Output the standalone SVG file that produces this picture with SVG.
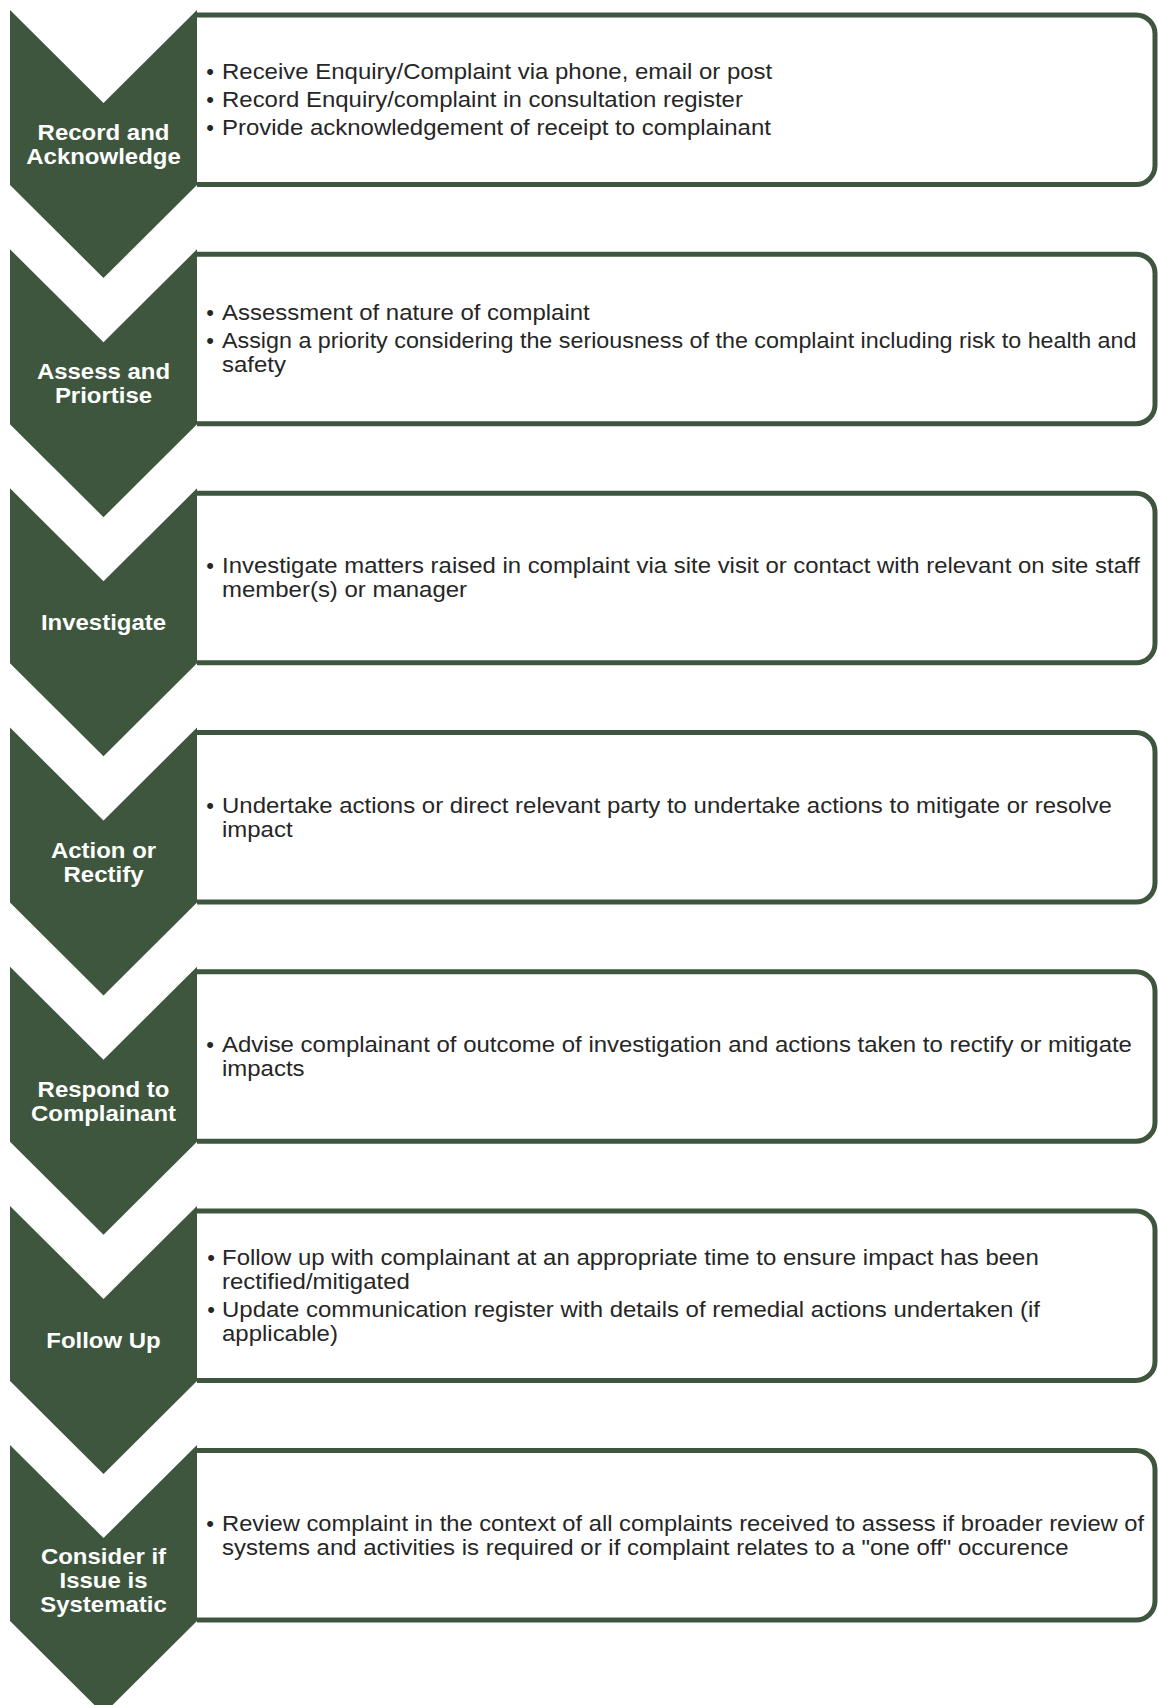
<svg xmlns="http://www.w3.org/2000/svg" width="1158" height="1705" viewBox="0 0 1158 1705">
<style>
.chev{fill:#3e563d}
.box{fill:#ffffff;stroke:#3e563d;stroke-width:5}
.lbl{font-family:"Liberation Sans",Arial,sans-serif;font-weight:bold;font-size:22px;fill:#ffffff;text-anchor:middle}
.body{font-family:"Liberation Sans",Arial,sans-serif;font-size:22px;fill:#262626}
.bul{font-family:"Liberation Sans",Arial,sans-serif;font-size:22px;fill:#262626;text-anchor:middle}
</style>
<rect width="1158" height="1705" fill="#ffffff"/>
<g id="connectors"/>

<g id="step1">
<path class="box" d="M197,15 H1136 A19,19 0 0 1 1155,34 V165.5 A19,19 0 0 1 1136,184.5 H197"/>
<polygon class="chev" points="10,10 103.5,103 197,10 197,185 103.5,278 10,185"/>
<text class="lbl" transform="matrix(1.09 0 0 1 103.5 0)"><tspan x="0" y="139.8">Record and</tspan><tspan x="0" y="164">Acknowledge</tspan></text>
<text class="bul"><tspan x="210" y="78.9">•</tspan><tspan x="210" y="106.9">•</tspan><tspan x="210" y="134.9">•</tspan></text>
<text class="body" transform="matrix(1.09 0 0 1 222 0)"><tspan x="0" y="78.9">Receive Enquiry/Complaint via phone, email or post</tspan><tspan x="0" y="106.9">Record Enquiry/complaint in consultation register</tspan><tspan x="0" y="134.9">Provide acknowledgement of receipt to complainant</tspan></text>
</g>

<g id="step2">
<path class="box" d="M197,254.2 H1136 A19,19 0 0 1 1155,273.2 V404.7 A19,19 0 0 1 1136,423.7 H197"/>
<polygon class="chev" points="10,249.2 103.5,342.2 197,249.2 197,424.2 103.5,517.2 10,424.2"/>
<text class="lbl" transform="matrix(1.09 0 0 1 103.5 0)"><tspan x="0" y="379">Assess and</tspan><tspan x="0" y="403.2">Priortise</tspan></text>
<text class="bul"><tspan x="210" y="320">•</tspan><tspan x="210" y="348">•</tspan></text>
<text class="body" transform="matrix(1.09 0 0 1 222 0)"><tspan x="0" y="320">Assessment of nature of complaint</tspan><tspan x="0" y="348" textLength="839" lengthAdjust="spacingAndGlyphs">Assign a priority considering the seriousness of the complaint including risk to health and</tspan><tspan x="0" y="372">safety</tspan></text>
</g>

<g id="step3">
<path class="box" d="M197,493.3 H1136 A19,19 0 0 1 1155,512.3 V643.8 A19,19 0 0 1 1136,662.8 H197"/>
<polygon class="chev" points="10,488.3 103.5,581.3 197,488.3 197,663.3 103.5,756.3 10,663.3"/>
<text class="lbl" transform="matrix(1.09 0 0 1 103.5 0)"><tspan x="0" y="630.5">Investigate</tspan></text>
<text class="bul"><tspan x="210" y="573.3">•</tspan></text>
<text class="body" transform="matrix(1.09 0 0 1 222 0)"><tspan x="0" y="573.3" textLength="842" lengthAdjust="spacingAndGlyphs">Investigate matters raised in complaint via site visit or contact with relevant on site staff</tspan><tspan x="0" y="597.3">member(s) or manager</tspan></text>
</g>

<g id="step4">
<path class="box" d="M197,732.5 H1136 A19,19 0 0 1 1155,751.5 V883 A19,19 0 0 1 1136,902 H197"/>
<polygon class="chev" points="10,727.5 103.5,820.5 197,727.5 197,902.5 103.5,995.5 10,902.5"/>
<text class="lbl" transform="matrix(1.09 0 0 1 103.5 0)"><tspan x="0" y="858">Action or</tspan><tspan x="0" y="882.2">Rectify</tspan></text>
<text class="bul"><tspan x="210" y="812.8">•</tspan></text>
<text class="body" transform="matrix(1.09 0 0 1 222 0)"><tspan x="0" y="812.8">Undertake actions or direct relevant party to undertake actions to mitigate or resolve</tspan><tspan x="0" y="836.8">impact</tspan></text>
</g>

<g id="step5">
<path class="box" d="M197,971.7 H1136 A19,19 0 0 1 1155,990.7 V1122.2 A19,19 0 0 1 1136,1141.2 H197"/>
<polygon class="chev" points="10,966.7 103.5,1059.7 197,966.7 197,1141.7 103.5,1234.7 10,1141.7"/>
<text class="lbl" transform="matrix(1.09 0 0 1 103.5 0)"><tspan x="0" y="1097.2">Respond to</tspan><tspan x="0" y="1121.4">Complainant</tspan></text>
<text class="bul"><tspan x="210" y="1052">•</tspan></text>
<text class="body" transform="matrix(1.09 0 0 1 222 0)"><tspan x="0" y="1052">Advise complainant of outcome of investigation and actions taken to rectify or mitigate</tspan><tspan x="0" y="1076">impacts</tspan></text>
</g>

<g id="step6">
<path class="box" d="M197,1210.9 H1136 A19,19 0 0 1 1155,1229.9 V1361.4 A19,19 0 0 1 1136,1380.4 H197"/>
<polygon class="chev" points="10,1205.9 103.5,1298.9 197,1205.9 197,1380.9 103.5,1473.9 10,1380.9"/>
<text class="lbl" transform="matrix(1.09 0 0 1 103.5 0)"><tspan x="0" y="1348">Follow Up</tspan></text>
<text class="bul"><tspan x="211" y="1264.7">•</tspan><tspan x="211" y="1316.7">•</tspan></text>
<text class="body" transform="matrix(1.09 0 0 1 222 0)"><tspan x="0" y="1264.7">Follow up with complainant at an appropriate time to ensure impact has been</tspan><tspan x="0" y="1288.7">rectified/mitigated</tspan><tspan x="0" y="1316.7">Update communication register with details of remedial actions undertaken (if</tspan><tspan x="0" y="1340.7">applicable)</tspan></text>
</g>

<g id="step7">
<path class="box" d="M197,1450.5 H1136 A19,19 0 0 1 1155,1469.5 V1601 A19,19 0 0 1 1136,1620 H197"/>
<polygon class="chev" points="10,1445 103.5,1538 197,1445 197,1621 103.5,1714 10,1621"/>
<text class="lbl" transform="matrix(1.09 0 0 1 103.5 0)"><tspan x="0" y="1564">Consider if</tspan><tspan x="0" y="1588.2">Issue is</tspan><tspan x="0" y="1612.4">Systematic</tspan></text>
<text class="bul"><tspan x="210" y="1531">•</tspan></text>
<text class="body" transform="matrix(1.09 0 0 1 222 0)"><tspan x="0" y="1531" textLength="846" lengthAdjust="spacingAndGlyphs">Review complaint in the context of all complaints received to assess if broader review of</tspan><tspan x="0" y="1555">systems and activities is required or if complaint relates to a "one off" occurence</tspan></text>
</g>
</svg>
